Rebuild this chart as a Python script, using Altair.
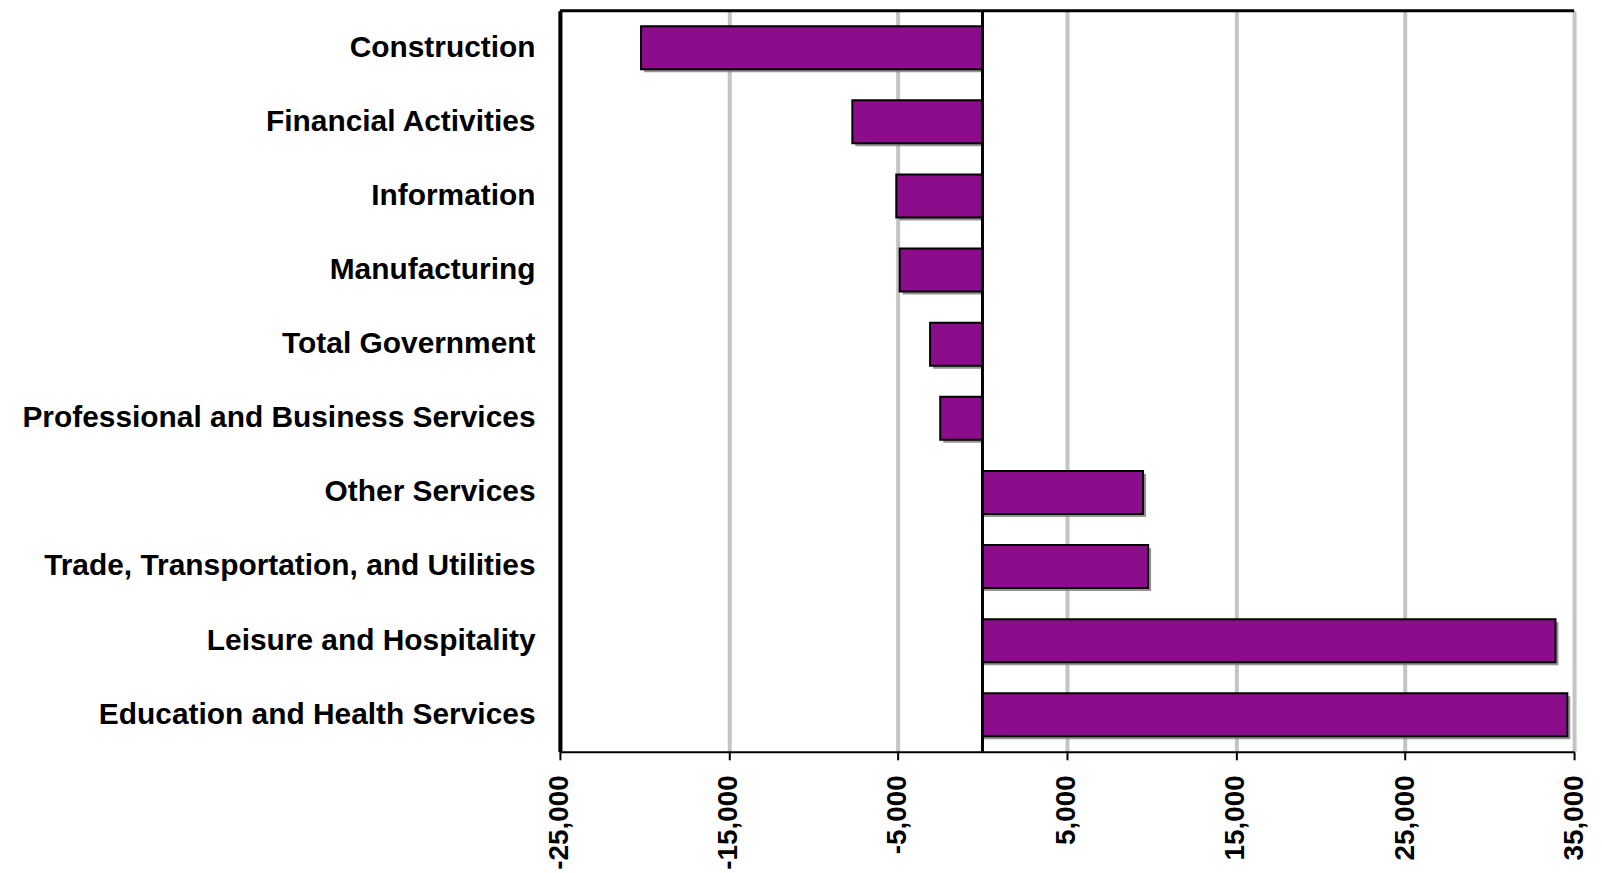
import altair as alt
import pandas as pd

categories = [
    "Construction",
    "Financial Activities",
    "Information",
    "Manufacturing",
    "Total Government",
    "Professional and Business Services",
    "Other Services",
    "Trade, Transportation, and Utilities",
    "Leisure and Hospitality",
    "Education and Health Services",
]
values = [-20200, -7700, -5100, -4900, -3100, -2500, 9500, 9800, 33900, 34600]
tick_values = [-25000, -15000, -5000, 5000, 15000, 25000, 35000]

df = pd.DataFrame({"category": categories, "value": values})

W, H = 1018, 744
FONT = "Liberation Sans"

x_scale = alt.Scale(domain=[-25000, 35000], nice=False, zero=False)
y_scale = alt.Scale(domain=categories, paddingInner=0.42, paddingOuter=0.21)

base = alt.Chart(df)

shadow = base.mark_bar(color="#7a7a7a", xOffset=3, yOffset=3, opacity=0.8).encode(
    x=alt.X("value:Q", scale=x_scale,
            axis=alt.Axis(values=tick_values,
                          labelExpr="replace(format(datum.value, ',d'), '\u2212', '-')",
                          labelAngle=-90,
                          labelFont=FONT, labelFontSize=28, labelFontWeight="bold",
                          labelColor="black", tickColor="black", tickSize=8, tickWidth=2,
                          labelPadding=15, domainColor="black", domainWidth=2,
                          grid=True, gridColor="#c4c4c4", gridWidth=4, title=None)),
    x2=alt.datum(0),
    y=alt.Y("category:N", scale=y_scale, sort=categories,
            axis=alt.Axis(labelFont=FONT, labelFontSize=30, labelFontWeight="bold",
                          labelColor="black", ticks=False, labelPadding=25,
                          domainColor="black", domainWidth=4, grid=False,
                          title=None, labelLimit=700)),
)

bars = base.mark_bar(color="#8b0d8b", stroke="black", strokeWidth=2).encode(
    x=alt.X("value:Q", scale=x_scale),
    x2=alt.datum(0),
    y=alt.Y("category:N", scale=y_scale, sort=categories),
)

zero_line = alt.Chart(pd.DataFrame({"z": [0]})).mark_rule(color="black", strokeWidth=3).encode(
    x=alt.X("z:Q", scale=x_scale)
)

top_line = alt.Chart(pd.DataFrame({"z": [0]})).mark_rule(color="black", strokeWidth=3).encode(
    x=alt.value(0), x2=alt.value(W), y=alt.value(0)
)

chart = alt.layer(shadow, bars, zero_line, top_line).properties(
    width=W, height=H,
    autosize=alt.AutoSizeParams(type="none"),
    padding={"left": 554, "top": 1, "right": 20, "bottom": 125},
).configure_view(stroke=None).configure(background="white")

chart.save("out.html", embed_options={"renderer": "svg", "actions": False})
